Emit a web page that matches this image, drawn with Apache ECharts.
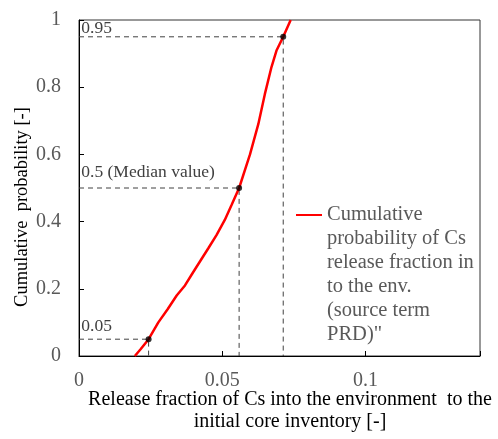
<!DOCTYPE html>
<html>
<head>
<meta charset="utf-8">
<script src="https://cdn.jsdelivr.net/npm/echarts@6/dist/echarts.min.js"></script>
<style>
  html, body { margin: 0; padding: 0; background: #fff; }
  #main { width: 498px; height: 439px; }
</style>
</head>
<body>
<div id="main"></div>
<script>
// CDF of Cs release fraction
var releaseFraction = [0.0195, 0.0215, 0.0243, 0.0277, 0.031, 0.0341, 0.037, 0.0399, 0.0425, 0.0451, 0.048, 0.0509, 0.0533, 0.0559, 0.0597, 0.0626, 0.0649, 0.0672, 0.069, 0.0713, 0.0739];
var cumProb = [0, 0.02, 0.05, 0.1, 0.14, 0.18, 0.21, 0.25, 0.285, 0.32, 0.36, 0.405, 0.45, 0.5, 0.6, 0.69, 0.78, 0.86, 0.91, 0.95, 1.0];

// marked percentiles
var pctProb = [0.05, 0.5, 0.95];
var pctValue = [0.0243, 0.0559, 0.0713];
var pctLabel = ['0.05', '0.5 (Median value)', '0.95'];
var pctLabelShift = [-13, -16, -8];

var legendLines = ['Cumulative', 'probability of Cs', 'release fraction in', 'to the env.', '(source term', 'PRD)"'];

var chart = echarts.init(document.getElementById('main'));

var curve = [];
for (var i = 0; i < releaseFraction.length; i++) {
    curve.push([releaseFraction[i], cumProb[i]]);
}

var series = [];
// dashed guide lines for each percentile
for (var k = 0; k < pctProb.length; k++) {
    series.push({
        type: 'line',
        silent: true,
        symbol: 'circle',
        symbolSize: 0.5,
        showSymbol: true,
        itemStyle: { color: 'rgba(0,0,0,0)' },
        lineStyle: { color: '#404040', width: 1, type: [5, 4] },
        data: [
            {
                value: [0, pctProb[k]],
                label: {
                    show: true,
                    formatter: pctLabel[k],
                    position: 'right',
                    distance: 0,
                    offset: [2, pctLabelShift[k]],
                    color: '#404040',
                    fontFamily: 'Liberation Serif',
                    fontSize: 17.5
                }
            },
            [pctValue[k], pctProb[k]],
            [pctValue[k], 0]
        ],
        z: 1
    });
}
series.push({
    name: 'cdf',
    type: 'line',
    symbol: 'none',
    lineStyle: { color: '#ff0000', width: 2.5 },
    data: curve,
    z: 3
});
var pts = [];
for (var k = 0; k < pctProb.length; k++) pts.push([pctValue[k], pctProb[k]]);
series.push({
    type: 'scatter',
    symbolSize: 6,
    itemStyle: { color: '#000' },
    data: pts,
    z: 4
});

var option = {
    backgroundColor: '#fff',
    animation: false,
    grid: {
        left: 79, top: 20, right: 18, bottom: 83,
        outerBoundsMode: 'none',
        containLabel: false,
        show: true, borderColor: '#333', borderWidth: 1
    },
    legend: {
        data: ['cdf'],
        left: 296,
        top: 83,
        padding: 0,
        itemWidth: 26,
        itemHeight: 14,
        icon: 'path://M0,0 L26,0 L26,2 L0,2 Z',
        itemStyle: { color: '#ff0000' },
        formatter: function () {
            // blank lines above so the first line sits beside the icon
            return '\n\n\n\n\n' + legendLines.join('\n');
        },
        textStyle: {
            color: '#595959',
            fontFamily: 'Liberation Serif',
            fontSize: 20.5,
            lineHeight: 24
        }
    },
    xAxis: {
        type: 'value',
        min: 0,
        max: 0.14,
        interval: 0.05,
        name: 'Release fraction of Cs into the environment  to the\ninitial core inventory [-]',
        nameLocation: 'middle',
        nameMoveOverlap: false,
        nameGap: 33,
        nameTextStyle: {
            color: '#000',
            fontFamily: 'Liberation Serif',
            fontSize: 20,
            lineHeight: 22,
            padding: [0, 0, 0, 21]
        },
        axisLine: { lineStyle: { color: '#000', width: 1 } },
        axisTick: { inside: true, length: 5, lineStyle: { color: '#000' } },
        splitLine: { show: false },
        axisLabel: {
            margin: 15,
            color: '#595959',
            fontFamily: 'Liberation Serif',
            fontSize: 20,
            formatter: function (v) { return v > 0.139 ? '' : String(v); }
        }
    },
    yAxis: {
        type: 'value',
        min: 0,
        max: 1,
        interval: 0.2,
        name: 'Cumulative  probability [-]',
        nameLocation: 'middle',
        nameMoveOverlap: false,
        nameGap: 47,
        nameTextStyle: {
            color: '#000',
            fontFamily: 'Liberation Serif',
            fontSize: 18.5,
            padding: [0, 38, 0, 0]
        },
        axisLine: { lineStyle: { color: '#000', width: 1 } },
        axisTick: { inside: true, length: 5, lineStyle: { color: '#000' } },
        splitLine: { show: false },
        axisLabel: {
            margin: 18,
            color: '#595959',
            fontFamily: 'Liberation Serif',
            fontSize: 20
        }
    },
    series: series
};
chart.setOption(option);
</script>
</body>
</html>
